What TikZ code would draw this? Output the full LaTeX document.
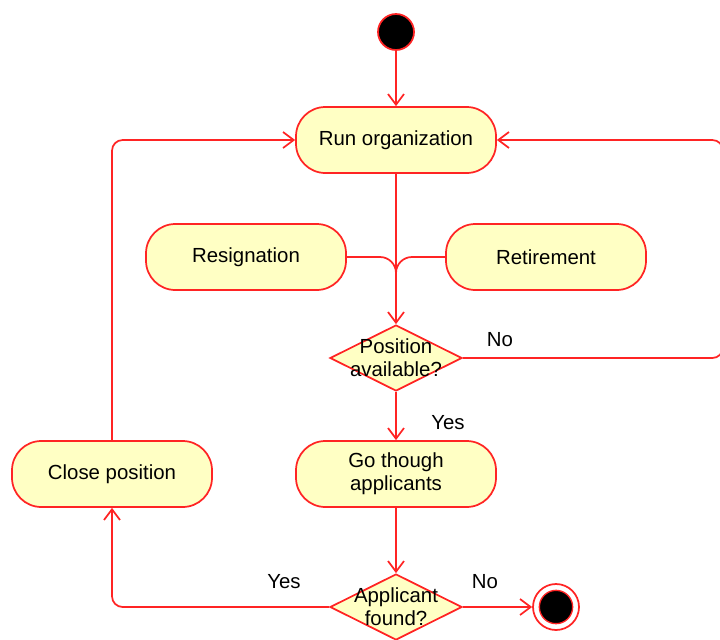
\documentclass[tikz,border=0pt]{standalone}
\usepackage{fontspec}
\setmainfont{Liberation Sans}
\usetikzlibrary{shapes.geometric,arrows.meta}
\definecolor{actfill}{RGB}{255,255,196}
\definecolor{actline}{RGB}{255,36,36}
\tikzset{
  activity/.style={draw=actline,fill=actfill,line width=1.3pt,rounded corners=22pt,
    minimum width=150pt,minimum height=49.5pt,align=center,inner sep=0pt},
  decision/.style={draw=actline,fill=actfill,line width=1.3pt,diamond,
    minimum width=99pt,minimum height=49.5pt,inner sep=0pt},
  flow/.style={draw=actline,line width=1.3pt,-{Straight Barb[length=8pt,width=12pt,line width=1.3pt]}},
  wire/.style={draw=actline,line width=1.3pt},
  guard/.style={inner sep=0.75pt},
}
\begin{document}
\begin{tikzpicture}[x=0.75pt,y=0.75pt,yscale=-1,xscale=1,font=\fontsize{15.3}{17.3}\selectfont]
\useasboundingbox (0,0) rectangle (720,639);
% Initial node
\node[circle,draw=actline,fill=black,line width=1.3pt,minimum size=27pt,inner sep=0pt] (start) at (396,32) {};
% Activities
\node[activity] (run) at (396,140) {Run organization};
\node[activity] (resign) at (246,257) {Resignation};
\node[activity] (retire) at (546,257) {Retirement};
\node[activity] (go) at (396,474) {Go though\\applicants};
\node[activity] (close) at (112,474) {Close position};
% Decisions
\node[decision,label={[align=center]center:Position\\available?}] (avail) at (396,358) {};
\node[decision,label={[align=center]center:Applicant\\found?}] (found) at (396,607) {};
% Final node
\node[circle,draw=actline,fill=white,line width=1.3pt,minimum size=34.5pt,inner sep=0pt] (endring) at (556,607) {};
\node[circle,draw=actline,fill=black,line width=1pt,minimum size=25pt,inner sep=0pt] (enddot) at (endring.center) {};
% Turning points
\coordinate (join) at (396,285);
\coordinate (rightturn) at (723,140);
\coordinate (leftturn) at (112,140);
% Flows
\draw[flow] (start) -- (run);
\draw[flow] (run) -- (avail);
\draw[wire,rounded corners=12pt] (resign.east) -| (join);
\draw[wire,rounded corners=12pt] (retire.west) -| (join);
\draw[flow] (avail) -- (go);
\draw[flow] (go) -- (found);
\draw[flow] (found) -- (endring);
\draw[flow,rounded corners=8pt] (avail.east) -| (rightturn) -- (run.east);
\draw[flow,rounded corners=8pt] (found.west) -| (close.south);
\draw[flow,rounded corners=8pt] (close.north) -- (leftturn) -- (run.west);
% Text Node
\node[guard] (noA) at (500,340) {No};
\node[guard] (yesA) at (448,423) {Yes};
\node[guard] (noB) at (485,582) {No};
\node[guard] (yesB) at (284,582) {Yes};
\end{tikzpicture}
\end{document}
